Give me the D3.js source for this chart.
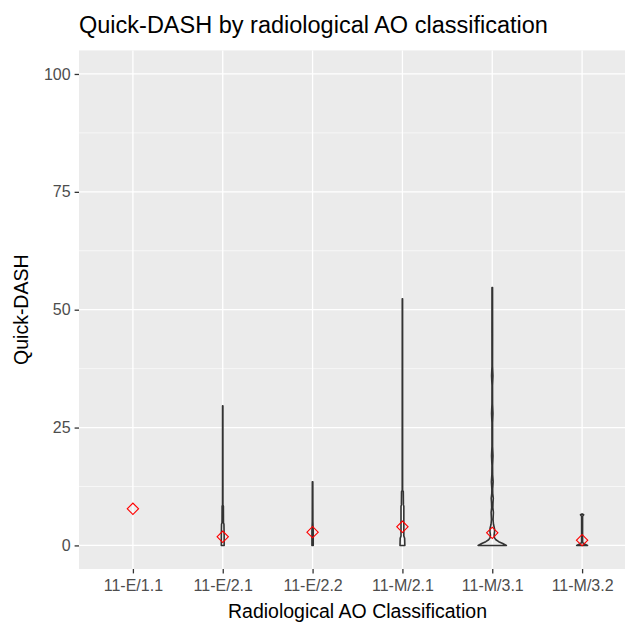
<!DOCTYPE html>
<html>
<head>
<meta charset="utf-8">
<script src="https://cdn.jsdelivr.net/npm/d3@7"></script>
<style>
  body { margin: 0; background: #fff; }
  svg { display: block; font-family: "Liberation Sans", Arial, sans-serif; }
</style>
</head>
<body>
<svg id="chart" width="625" height="624"></svg>
<script>
// ---- data ----
const categories = ["11-E/1.1", "11-E/2.1", "11-E/2.2", "11-M/2.1", "11-M/3.1", "11-M/3.2"];
const means = [7.77, 1.83, 2.82, 3.95, 2.67, 1.12];
const yTicks = [0, 25, 50, 75, 100];
// violin outlines: [Quick-DASH value, relative density (1 = full violin width)]
const violinE11 = [];
const violinE21 = [[0, 0.035], [2, 0.035], [4.5, 0.03], [4.8, 0.018], [8.3, 0.016], [8.6, 0.005], [29.6, 0.004]];
const violinE22 = [[0, 0.016], [3, 0.016], [5, 0.008], [13.5, 0.006]];
const violinM21 = [[0, 0.06], [1.5, 0.055], [2, 0.035], [8.3, 0.035], [8.6, 0.025], [11.4, 0.022], [11.7, 0.005], [52.3, 0.004]];
const violinM31 = [[0, 0.35], [0.4, 0.26], [0.8, 0.16], [1.2, 0.09], [1.6, 0.055], [2.2, 0.045], [3, 0.058], [3.6, 0.055], [4.5, 0.03],
  [5.5, 0.02], [7, 0.028], [8, 0.015], [9, 0.018], [10, 0.026], [11, 0.012], [12, 0.01], [13.5, 0.022], [15, 0.01],
  [17, 0.008], [19, 0.018], [21, 0.008], [26, 0.008], [28, 0.017], [30, 0.008], [34, 0.007], [36, 0.017], [38, 0.007], [45, 0.008], [54.7, 0.007]];
const violinM32 = [[0, 0.135], [0.3, 0.06], [0.6, 0.012], [6.2, 0.012], [6.5, 0.04], [6.7, 0.0]];
const violins = [violinE11, violinE21, violinE22, violinM21, violinM31, violinM32];

// ---- layout ----
const svg = d3.select("#chart");
const panel = { left: 79, top: 50.4, right: 636, bottom: 569 };

// ggplot discrete expansion: 0.6 units each side
const step = (panel.right - panel.left) / (categories.length - 1 + 1.2);
const x = d3.scalePoint().domain(categories)
  .range([panel.left + 0.6 * step, panel.right - 0.6 * step]);
const y = d3.scaleLinear().domain([-5, 105]).range([panel.bottom, panel.top]);
const w = d3.scaleLinear().domain([0, 1]).range([0, step * 0.45]);

// panel background
svg.append("rect").attr("x", panel.left).attr("y", panel.top)
  .attr("width", panel.right - panel.left).attr("height", panel.bottom - panel.top)
  .attr("fill", "#EBEBEB");

const grid = svg.append("g");
const minor = [12.5, 37.5, 62.5, 87.5];
grid.selectAll(".ymin").data(minor).join("line")
  .attr("x1", panel.left).attr("x2", panel.right)
  .attr("y1", d => y(d)).attr("y2", d => y(d))
  .attr("stroke", "#fff").attr("stroke-width", 0.6);
grid.selectAll(".ymaj").data(yTicks).join("line")
  .attr("x1", panel.left).attr("x2", panel.right)
  .attr("y1", d => y(d)).attr("y2", d => y(d))
  .attr("stroke", "#fff").attr("stroke-width", 1.3);
grid.selectAll(".xmaj").data(categories).join("line")
  .attr("x1", d => x(d)).attr("x2", d => x(d))
  .attr("y1", panel.top).attr("y2", panel.bottom)
  .attr("stroke", "#fff").attr("stroke-width", 1.3);

// violins
violins.forEach((v, i) => {
  if (v.length < 2) return;
  const cx = x(categories[i]);
  const pts = v.map(d => [cx + w(d[1]), y(d[0])]).concat(
    v.slice().reverse().map(d => [cx - w(d[1]), y(d[0])]));
  svg.append("path")
    .attr("d", d3.line().curve(d3.curveLinearClosed)(pts))
    .attr("fill", "none")
    .attr("stroke", "#333333")
    .attr("stroke-width", 1.6)
    .attr("stroke-linejoin", "round");
});

// means (open diamonds)
svg.selectAll(".mean").data(categories).join("path")
  .attr("transform", (d, i) => `translate(${x(d)},${y(means[i])}) rotate(45)`)
  .attr("d", d3.symbol().type(d3.symbolSquare).size(64)())
  .attr("fill", "none").attr("stroke", "#FF0000").attr("stroke-width", 1.1);

// axes
const yAxis = d3.axisLeft(y).tickValues(yTicks).tickSize(4.4).tickPadding(4);
const gy = svg.append("g").attr("transform", `translate(${panel.left},0)`).call(yAxis);
gy.select(".domain").remove();
gy.selectAll(".tick line").attr("stroke", "#333333").attr("stroke-width", 1.3);
gy.selectAll(".tick text").attr("fill", "#4D4D4D").style("font-size", "16px").style("font-family", "Liberation Sans, Arial, sans-serif");

const xAxis = d3.axisBottom(x).tickSize(4.4).tickPadding(6);
const gx = svg.append("g").attr("transform", `translate(0,${panel.bottom})`).call(xAxis);
gx.select(".domain").remove();
gx.selectAll(".tick line").attr("stroke", "#333333").attr("stroke-width", 1.3);
gx.selectAll(".tick text").attr("fill", "#4D4D4D").style("font-size", "16px").style("font-family", "Liberation Sans, Arial, sans-serif");

// titles
svg.append("text").attr("x", panel.left).attr("y", 33)
  .style("font-size", "23.5px").attr("fill", "#000")
  .text("Quick-DASH by radiological AO classification");
svg.append("text").attr("x", (panel.left + panel.right) / 2).attr("y", 618)
  .attr("text-anchor", "middle").style("font-size", "19.5px").attr("fill", "#000")
  .text("Radiological AO Classification");
svg.append("text").attr("transform", `translate(28,${(panel.top + panel.bottom) / 2}) rotate(-90)`)
  .attr("text-anchor", "middle").style("font-size", "19.5px").attr("fill", "#000")
  .text("Quick-DASH");
</script>
</body>
</html>
